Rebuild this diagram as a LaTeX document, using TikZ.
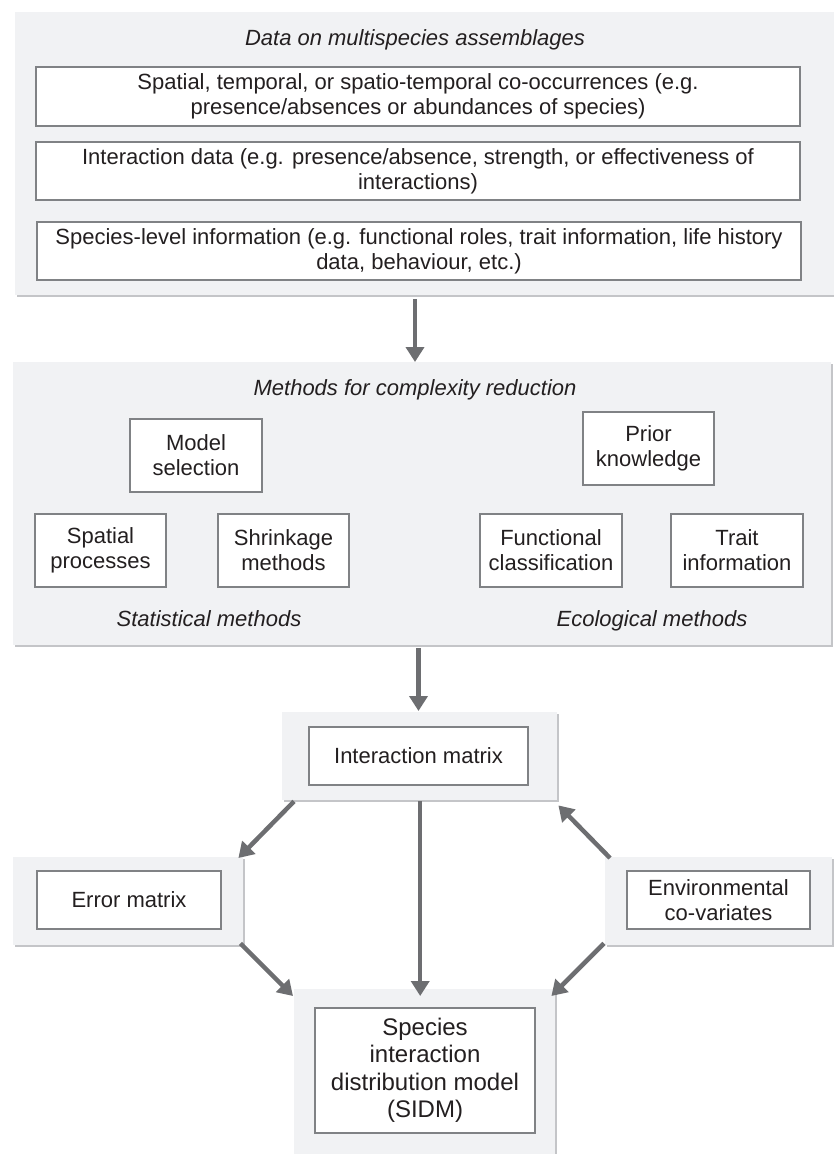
\documentclass[tikz,border=0pt]{standalone}
\usepackage{fontspec}
\setmainfont{Liberation Sans}
\usetikzlibrary{arrows.meta,shadows,calc}
\definecolor{panelfill}{HTML}{F1F2F4}
\definecolor{shadowc}{HTML}{C4C5C8}
\definecolor{boxline}{HTML}{808285}
\definecolor{arrowc}{HTML}{6D6E71}
\definecolor{txt}{HTML}{231F20}
\begin{document}
\begin{tikzpicture}[x=1pt,y=-1pt,
  panel/.style={fill=panelfill, draw=none, inner sep=0pt, anchor=north west,
    drop shadow={shadow xshift=1.8pt, shadow yshift=-2pt, fill=shadowc, opacity=1}},
  box/.style={draw=boxline, line width=1.3pt, fill=white, align=center, inner sep=0pt,
    text=txt, font=\fontsize{22}{25}\selectfont},
  lbl/.style={text=txt, font=\fontsize{22}{25}\selectfont\itshape, inner sep=0pt},
  arr/.style={draw=arrowc, line width=4.5pt, -{Triangle[length=15pt,width=18pt]}}]
\useasboundingbox (0,0) rectangle (834,1154);

% top panel
\node[panel, minimum width=821pt, minimum height=283pt] (p1) at (15,12) {};
\node[lbl] (t1) at (415,40) {Data on multispecies assemblages};
\node[box, minimum width=764pt, minimum height=59pt] (b1) at (418,96.5)
  {Spatial, temporal, or spatio-temporal co-occurrences (e.g.\\presence/absences or abundances of species)};
\node[box, minimum width=764pt, minimum height=58pt] (b2) at (418,171)
  {Interaction data (e.g. presence/absence, strength, or effectiveness of\\interactions)};
\node[box, minimum width=764pt, minimum height=58pt] (b3) at (419,251)
  {Species-level information (e.g. functional roles, trait information, life history\\data, behaviour, etc.)};

% second panel
\node[panel, minimum width=818pt, minimum height=283pt] (p2) at (13,362) {};
\node[lbl] (t2) at (415,390) {Methods for complexity reduction};
\node[box, minimum width=132pt, minimum height=73pt] (ms) at (196,455.5) {Model\\selection};
\node[box, minimum width=131pt, minimum height=73pt] (pk) at (648.5,448.5) {Prior\\knowledge};
\node[box, minimum width=131pt, minimum height=73pt] (sp) at (100.5,550.5) {Spatial\\processes};
\node[box, minimum width=131pt, minimum height=73pt] (sh) at (283.5,550.5) {Shrinkage\\methods};
\node[box, minimum width=142pt, minimum height=73pt] (fc) at (551,550.5) {Functional\\classification};
\node[box, minimum width=132pt, minimum height=73pt] (ti) at (737,550.5) {Trait\\information};
\node[lbl, anchor=base] (stat) at (209,626) {Statistical methods};
\node[lbl, anchor=base] (eco) at (652,626) {Ecological methods};

% lower panels
\node[panel, minimum width=275pt, minimum height=88pt] (imp) at (282,712) {};
\node[box, minimum width=219pt, minimum height=58pt] (im) at (418.5,756) {Interaction matrix};
\node[panel, minimum width=230pt, minimum height=88pt] (errp) at (13,857) {};
\node[box, minimum width=184pt, minimum height=58pt] (em) at (129,900) {Error matrix};
\node[panel, minimum width=227pt, minimum height=88pt] (envp) at (605,857) {};
\node[box, minimum width=183pt, minimum height=58pt] (env) at (718.5,900) {Environmental\\co-variates};
\node[panel, minimum width=261pt, minimum height=175pt] (sidmp) at (294,989) {};
\node[box, minimum width=220pt, minimum height=125pt, font=\fontsize{24}{27.5}\selectfont] (sidm) at (425,1070.5)
  {Species\\interaction\\distribution model\\(SIDM)};

% arrows
\draw[arr] ($(t1 |- p1.south)+(0,4)$) -- (t1 |- p2.north);
\draw[arr] ($(im.north |- p2.south)+(0,3)$) -- ($(im.north |- imp.north)+(0,-1)$);
\draw[arr] ($(imp.south west)+(12,1)$) -- ($(errp.north east)+(-5,1)$);
\draw[arr] ($(imp.south)+(0.5,1)$) -- ($(imp.south |- sidmp.north)+(0.5,7)$);
\draw[arr] ($(envp.north west)+(5,1)$) -- ($(imp.south east)+(1,5)$);
\draw[arr] ($(errp.south east)+(-3,-2)$) -- ($(sidmp.north west)+(-1,7)$);
\draw[arr] ($(envp.south west)+(-1,-2)$) -- ($(sidmp.north east)+(-4,7)$);
\end{tikzpicture}
\end{document}
